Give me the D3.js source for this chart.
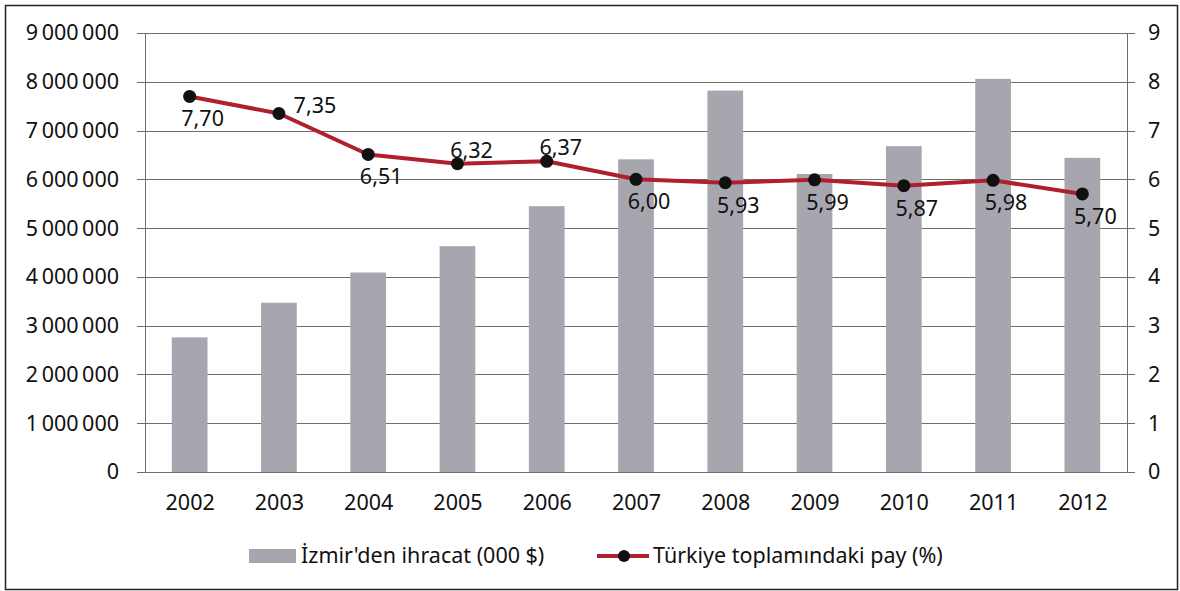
<!DOCTYPE html>
<html lang="tr">
  <head>
    <meta charset="UTF-8" />
    <title>İzmir ihracat</title>
    <script src="https://d3js.org/d3.v7.min.js"></script>
    <style>
      body {
        margin: 0;
        background: #fff;
      }
      svg text {
        font-family: "Noto Sans", sans-serif;
        fill: #111;
      }
    </style>
  </head>
  <body>
    <svg id="svg" width="1180" height="591"></svg>
    <script>
      // data
      const years = ["2002", "2003", "2004", "2005", "2006", "2007", "2008", "2009", "2010", "2011", "2012"];
      const exports = [2760000, 3470000, 4090000, 4630000, 5450000, 6410000, 7820000, 6110000, 6680000, 8060000, 6440000];
      const share = [7.70, 7.35, 6.51, 6.32, 6.37, 6.00, 5.93, 5.99, 5.87, 5.98, 5.70];
      const shareLabelSide = ["below", "right", "below", "above", "above", "below", "below", "below", "below", "below", "below"];
      const leftTicks = [0, 1000000, 2000000, 3000000, 4000000, 5000000, 6000000, 7000000, 8000000, 9000000];
      const rightTicks = [0, 1, 2, 3, 4, 5, 6, 7, 8, 9];
      const barName = "İzmir'den ihracat (000 $)";
      const lineName = "Türkiye toplamındaki pay (%)";

      const svg = d3.select("#svg");
      const margin = { left: 145, right: 1127, top: 33, bottom: 472 };
      const fontSize = "21.5px";

      // outer frame
      svg.append("rect")
        .attr("x", 5.5).attr("y", 5.5)
        .attr("width", 1172).attr("height", 584)
        .attr("fill", "none").attr("stroke", "#222").attr("stroke-width", 1.5);

      const x = d3.scaleBand().domain(years).range([margin.left, margin.right]).paddingInner(0.6).paddingOuter(0.3);
      const xPt = d3.scalePoint().domain(years).range([margin.left, margin.right]).padding(0.5);
      const yL = d3.scaleLinear().domain([0, 9000000]).range([margin.bottom, margin.top]);
      const yR = d3.scaleLinear().domain([0, 9]).range([margin.bottom, margin.top]);

      const fmt = (v) => d3.format(",")(v).replace(/,/g, "\u2009");

      // gridlines
      svg.append("g")
        .selectAll("line")
        .data(leftTicks)
        .enter()
        .append("line")
        .attr("x1", margin.left - 8).attr("x2", margin.right + 8)
        .attr("y1", (d) => Math.round(yL(d)) + 0.5)
        .attr("y2", (d) => Math.round(yL(d)) + 0.5)
        .attr("stroke", "#6e6e6e").attr("stroke-width", 1);

      // bars
      svg.append("g")
        .selectAll("rect")
        .data(exports)
        .enter()
        .append("rect")
        .attr("x", (d, i) => x(years[i]))
        .attr("width", x.bandwidth())
        .attr("y", (d) => yL(d))
        .attr("height", (d) => yL(0) - yL(d))
        .attr("fill", "#a7a6af");

      // vertical axis lines
      [margin.left, margin.right].forEach((px) => {
        svg.append("line")
          .attr("x1", px + 0.5).attr("x2", px + 0.5)
          .attr("y1", margin.top).attr("y2", margin.bottom)
          .attr("stroke", "#6e6e6e");
      });

      // axis labels
      const leftAxis = d3.axisLeft(yL).tickValues(leftTicks).tickFormat(fmt).tickSize(0).tickPadding(26);
      const gl = svg.append("g").attr("transform", `translate(${margin.left},0)`).call(leftAxis);
      gl.select(".domain").remove();
      gl.selectAll("text").style("font-size", fontSize).attr("fill", "#111");

      const rightAxis = d3.axisRight(yR).tickValues(rightTicks).tickFormat(d3.format("d")).tickSize(0).tickPadding(21);
      const gr = svg.append("g").attr("transform", `translate(${margin.right},0)`).call(rightAxis);
      gr.select(".domain").remove();
      gr.selectAll("text").style("font-size", fontSize).attr("fill", "#111");

      const bottomAxis = d3.axisBottom(xPt).tickSize(0).tickPadding(23);
      const gb = svg.append("g").attr("transform", `translate(0,${margin.bottom})`).call(bottomAxis);
      gb.select(".domain").remove();
      gb.selectAll("text").style("font-size", fontSize).attr("fill", "#111");

      // share line
      const line = d3.line()
        .x((d, i) => xPt(years[i]))
        .y((d) => yR(d));

      svg.append("path")
        .datum(share)
        .attr("d", line)
        .attr("fill", "none")
        .attr("stroke", "#b01f2e")
        .attr("stroke-width", 4)
        .attr("stroke-linejoin", "round");

      svg.append("g")
        .selectAll("circle")
        .data(share)
        .enter()
        .append("circle")
        .attr("cx", (d, i) => xPt(years[i]))
        .attr("cy", (d) => yR(d))
        .attr("r", 6.5)
        .attr("fill", "#111");

      const offsets = {
        below: [13, 30],
        above: [14, -6],
        right: [36, 0],
      };
      svg.append("g")
        .selectAll("text")
        .data(share)
        .enter()
        .append("text")
        .attr("x", (d, i) => xPt(years[i]) + offsets[shareLabelSide[i]][0])
        .attr("y", (d, i) => yR(d) + offsets[shareLabelSide[i]][1])
        .attr("text-anchor", "middle")
        .style("font-size", fontSize)
        .text((d) => d3.format(".2f")(d).replace(".", ","));

      // legend
      const legend = svg.append("g").attr("transform", "translate(0,556)");
      legend.append("rect")
        .attr("x", 249).attr("y", -7).attr("width", 47).attr("height", 14)
        .attr("fill", "#a7a6af");
      legend.append("text")
        .attr("x", 301).attr("y", 7)
        .style("font-size", fontSize)
        .text(barName);

      legend.append("line")
        .attr("x1", 597).attr("x2", 649).attr("y1", 0).attr("y2", 0)
        .attr("stroke", "#b01f2e").attr("stroke-width", 4);
      legend.append("circle")
        .attr("cx", 624).attr("cy", 0).attr("r", 6)
        .attr("fill", "#111");
      legend.append("text")
        .attr("x", 653).attr("y", 7)
        .style("font-size", fontSize)
        .text(lineName);
    </script>
  </body>
</html>
